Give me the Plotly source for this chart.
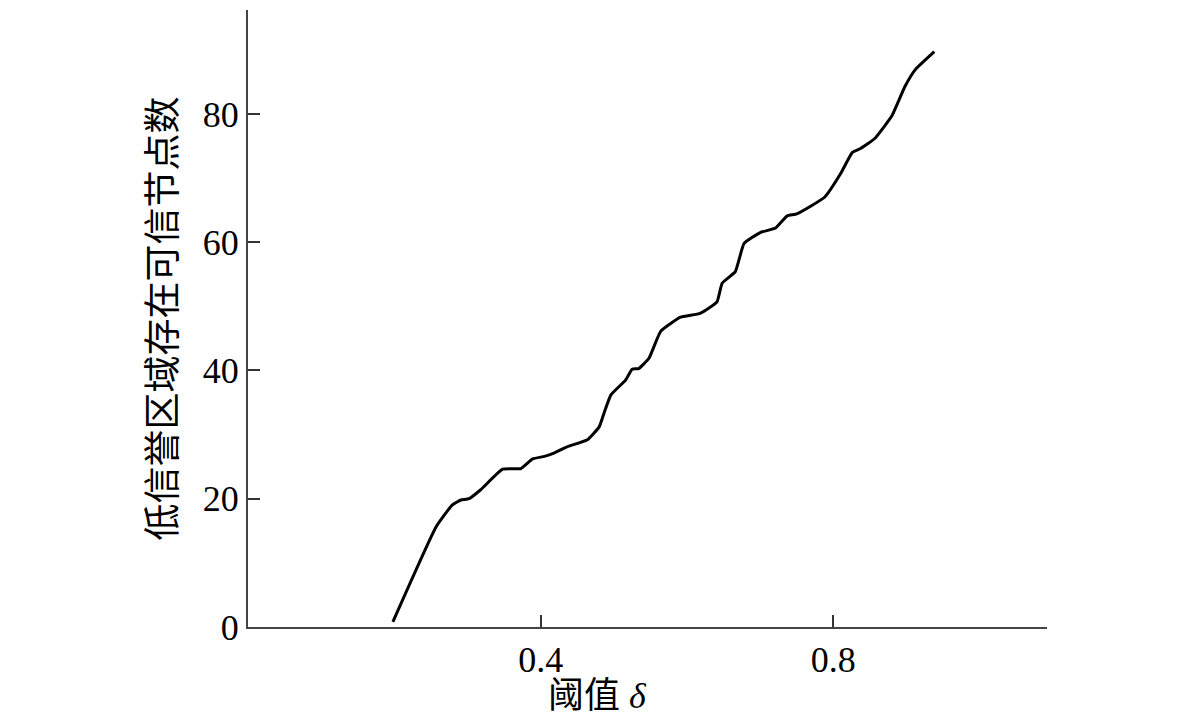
import plotly.graph_objects as go

# threshold delta values and counts
delta = [0.198, 0.257, 0.279, 0.291, 0.302, 0.318, 0.348, 0.373, 0.389, 0.405,
         0.418, 0.436, 0.464, 0.480, 0.487, 0.496, 0.516, 0.525, 0.534, 0.548,
         0.564, 0.591, 0.618, 0.641, 0.648, 0.666, 0.678, 0.700, 0.721, 0.737,
         0.750, 0.788, 0.810, 0.826, 0.837, 0.857, 0.880, 0.898, 0.912, 0.938]
count = [0.8, 15.6, 19.0, 19.8, 20.0, 21.4, 24.6, 24.7, 26.2, 26.6,
         27.1, 28.1, 29.2, 31.2, 33.5, 36.2, 38.5, 40.2, 40.3, 41.9,
         46.1, 48.3, 48.9, 50.7, 53.6, 55.4, 59.8, 61.5, 62.2, 64.1,
         64.4, 67.0, 70.7, 74.0, 74.6, 76.2, 79.7, 84.3, 86.9, 89.7]

x_ticks = [0.4, 0.8]
x_tick_text = ["0.4", "0.8"]
y_ticks = [0, 20, 40, 60, 80]

FONT = "Liberation Serif, Noto Sans CJK SC, serif"

fig = go.Figure()
fig.add_trace(go.Scatter(x=delta, y=count, mode="lines",
                         line=dict(color="black", width=3, shape="spline", smoothing=0.4),
                         showlegend=False))

fig.update_layout(
    width=1192, height=714,
    margin=dict(l=240, r=153, t=2, b=95),
    paper_bgcolor="white", plot_bgcolor="white",
    font=dict(family=FONT, size=36, color="black"),
    xaxis=dict(range=[0, 1.092], tickvals=x_ticks, ticktext=x_tick_text,
               ticks="inside", ticklen=12, tickwidth=2, tickcolor="#333",
               showline=True, linecolor="#444", linewidth=2,
               showgrid=False, zeroline=False,
               tickfont=dict(family=FONT, size=36)),
    yaxis=dict(range=[0, 96.2], tickvals=y_ticks,
               ticks="inside", ticklen=12, tickwidth=2, tickcolor="#333",
               showline=True, linecolor="#444", linewidth=2,
               showgrid=False, zeroline=False,
               tickfont=dict(family=FONT, size=36),
               title=dict(text="低信誉区域存在可信节点数", standoff=15,
                          font=dict(family="Noto Sans CJK SC", size=37))),
    annotations=[dict(text="阈值 <i>δ</i>", xref="paper", yref="paper",
                      x=0.437, y=-0.112, xanchor="center", yanchor="middle",
                      showarrow=False, font=dict(family=FONT, size=36))],
)

fig.write_html("out.html")
